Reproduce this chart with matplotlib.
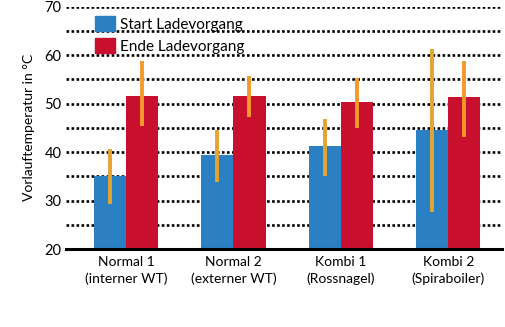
import matplotlib
matplotlib.use("Agg")
import matplotlib.pyplot as plt
import numpy as np
from matplotlib.patches import Patch

plt.rcParams['font.family'] = ['Lato', 'DejaVu Sans']

# Daten
kategorien = ["Normal 1\n(interner WT)", "Normal 2\n(externer WT)",
              "Kombi 1\n(Rossnagel)", "Kombi 2\n(Spiraboiler)"]
start = [35.0, 39.4, 41.2, 44.6]
ende = [51.6, 51.5, 50.4, 51.4]
start_min = [29.3, 33.8, 35.0, 27.7]
start_max = [40.6, 44.6, 46.8, 61.2]
ende_min = [45.4, 47.2, 44.9, 43.2]
ende_max = [58.8, 55.7, 55.2, 58.7]

blau = '#2a80c2'
rot = '#c8102e'
orange_s = '#e2a532'
orange_e = '#f29b2c'

fig = plt.figure(figsize=(5.06, 3.27), dpi=100)
ax = fig.add_axes([0.130, 0.2385, 0.862, 0.741])

x = np.arange(len(kategorien))
b = 0.30

# Gitterlinien alle 5 Grad
for yv in range(25, 75, 5):
    ax.axhline(yv, color='black', linestyle=(0, (1, 0.9)), linewidth=1.9, zorder=1)

ax.bar(x - b / 2, start, width=b, color=blau, zorder=2)
ax.bar(x + b / 2, ende, width=b, color=rot, zorder=2)
ax.vlines(x - b / 2, start_min, start_max, color=orange_s, linewidth=2.8, zorder=3)
ax.vlines(x + b / 2, ende_min, ende_max, color=orange_e, linewidth=2.8, zorder=3)

ax.set_ylim(20, 70)
ax.set_xlim(-0.56, 3.5)
ax.set_yticks(range(20, 80, 10))
ax.set_xticks(x)
ax.set_xticklabels(kategorien, fontsize=10, linespacing=1.45)
ax.tick_params(axis='both', length=0, labelsize=10.5)
ax.tick_params(axis='y', pad=3)
ax.tick_params(axis='x', pad=5, labelsize=10)
for s in ['top', 'right', 'left']:
    ax.spines[s].set_visible(False)
ax.spines['bottom'].set_linewidth(2.2)
ax.spines['bottom'].set_zorder(4)

ax.set_ylabel("Vorlauftemperatur in °C", fontsize=10, labelpad=7)

handles = [Patch(color=blau, label="Start Ladevorgang"),
           Patch(color=rot, label="Ende Ladevorgang")]
ax.legend(handles=handles, loc='upper left', bbox_to_anchor=(0.045, 1.0),
          frameon=False, fontsize=11, handlelength=1.35, handleheight=1.15,
          labelspacing=0.42, handletextpad=0.3, borderaxespad=0.2)

fig.savefig("out.png", dpi=100)
